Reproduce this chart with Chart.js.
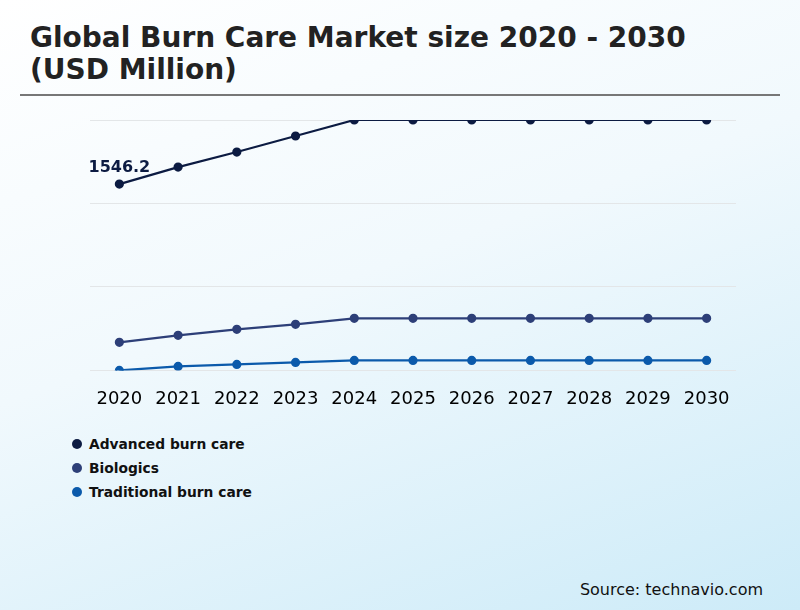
<!DOCTYPE html>
<html>
<head>
<meta charset="utf-8">
<script src="https://cdn.jsdelivr.net/npm/chart.js@4"></script>
<style>
  html, body { margin: 0; padding: 0; }
  body {
    width: 800px; height: 610px; position: relative; overflow: hidden;
    font-family: 'DejaVu Sans', sans-serif;
    background: linear-gradient(160deg, #ffffff 0%, #f1f9fd 45%, #cdebf8 100%);
  }
  h1 {
    position: absolute; left: 30px; top: 22px; margin: 0;
    font-size: 28px; line-height: 32px; font-weight: bold; color: #222;
  }
  .rule { position: absolute; left: 20px; top: 94px; width: 760px; height: 2px; background: #777; }
  .wrap { position: absolute; left: 0; top: 100px; width: 800px; height: 320px; }
  #legend { position: absolute; left: 72px; top: 432px; }
  .item { display: flex; align-items: center; height: 24px; font-size: 13.8px; font-weight: bold; color: #111; }
  .dot { width: 10px; height: 10px; border-radius: 50%; margin-right: 7px; }
  .source { position: absolute; right: 37px; top: 580px; font-size: 16px; color: #111; }
</style>
</head>
<body>
<h1>Global Burn Care Market size 2020 - 2030<br>(USD Million)</h1>
<div class="rule"></div>
<div class="wrap"><canvas id="c" width="800" height="320"></canvas></div>
<div id="legend"></div>
<div class="source">Source: technavio.com</div>
<script>
  var years = ['2020', '2021', '2022', '2023', '2024', '2025', '2026', '2027', '2028', '2029', '2030'];
  var advanced = [1546.2, 1680, 1798.5, 1924.6, 2050.7, 2050.7, 2050.7, 2050.7, 2050.7, 2050.7, 2050.7];
  var biologics = [300.7, 355.9, 403.2, 442.6, 489.9, 489.9, 489.9, 489.9, 489.9, 489.9, 489.9];
  var traditional = [80, 111.5, 127.3, 143, 158.8, 158.8, 158.8, 158.8, 158.8, 158.8, 158.8];
  var seriesNames = ['Advanced burn care', 'Biologics', 'Traditional burn care'];
  var seriesColors = ['#0c1b42', '#2d3f78', '#0b5aab'];
  var yMin = 80, yMax = 2050.7;

  function ds(i, data) {
    return {
      label: seriesNames[i],
      data: data,
      borderColor: seriesColors[i],
      backgroundColor: seriesColors[i],
      borderWidth: 2.2,
      pointRadius: 3.5,
      pointHoverRadius: 3.5,
      tension: 0,
      clip: 0
    };
  }

  // first value label above 2020 point
  var firstLabel = {
    id: 'firstLabel',
    afterDatasetsDraw: function(chart) {
      var meta = chart.getDatasetMeta(0);
      var p = meta.data[0];
      var ctx = chart.ctx;
      ctx.save();
      ctx.font = 'bold 16px "DejaVu Sans"';
      ctx.fillStyle = seriesColors[0];
      ctx.textAlign = 'center';
      ctx.textBaseline = 'middle';
      ctx.fillText(advanced[0].toFixed(1), p.x, p.y - 16);
      ctx.restore();
    }
  };

  new Chart(document.getElementById('c'), {
    type: 'line',
    plugins: [firstLabel],
    data: {
      labels: years,
      datasets: [ds(0, advanced), ds(1, biologics), ds(2, traditional)]
    },
    options: {
      responsive: false,
      animation: false,
      devicePixelRatio: 1,
      layout: { padding: { left: 90, right: 64, top: 20, bottom: 0 } },
      plugins: { legend: { display: false }, tooltip: { enabled: false } },
      scales: {
        x: {
          offset: true,
          grid: { display: false },
          border: { display: false },
          ticks: { color: '#000', font: { family: 'DejaVu Sans', size: 18 }, padding: 10, maxRotation: 0, autoSkip: false }
        },
        y: {
          min: yMin,
          max: yMax,
          ticks: { display: false, stepSize: (yMax - yMin) / 3 },
          border: { display: false },
          grid: { color: '#e3e6e8', drawTicks: false }
        }
      }
    }
  });

  var legend = document.getElementById('legend');
  seriesNames.forEach(function(n, i) {
    var d = document.createElement('div');
    d.className = 'item';
    d.innerHTML = '<span class="dot" style="background:' + seriesColors[i] + '"></span>' + n;
    legend.appendChild(d);
  });
</script>
</body>
</html>
